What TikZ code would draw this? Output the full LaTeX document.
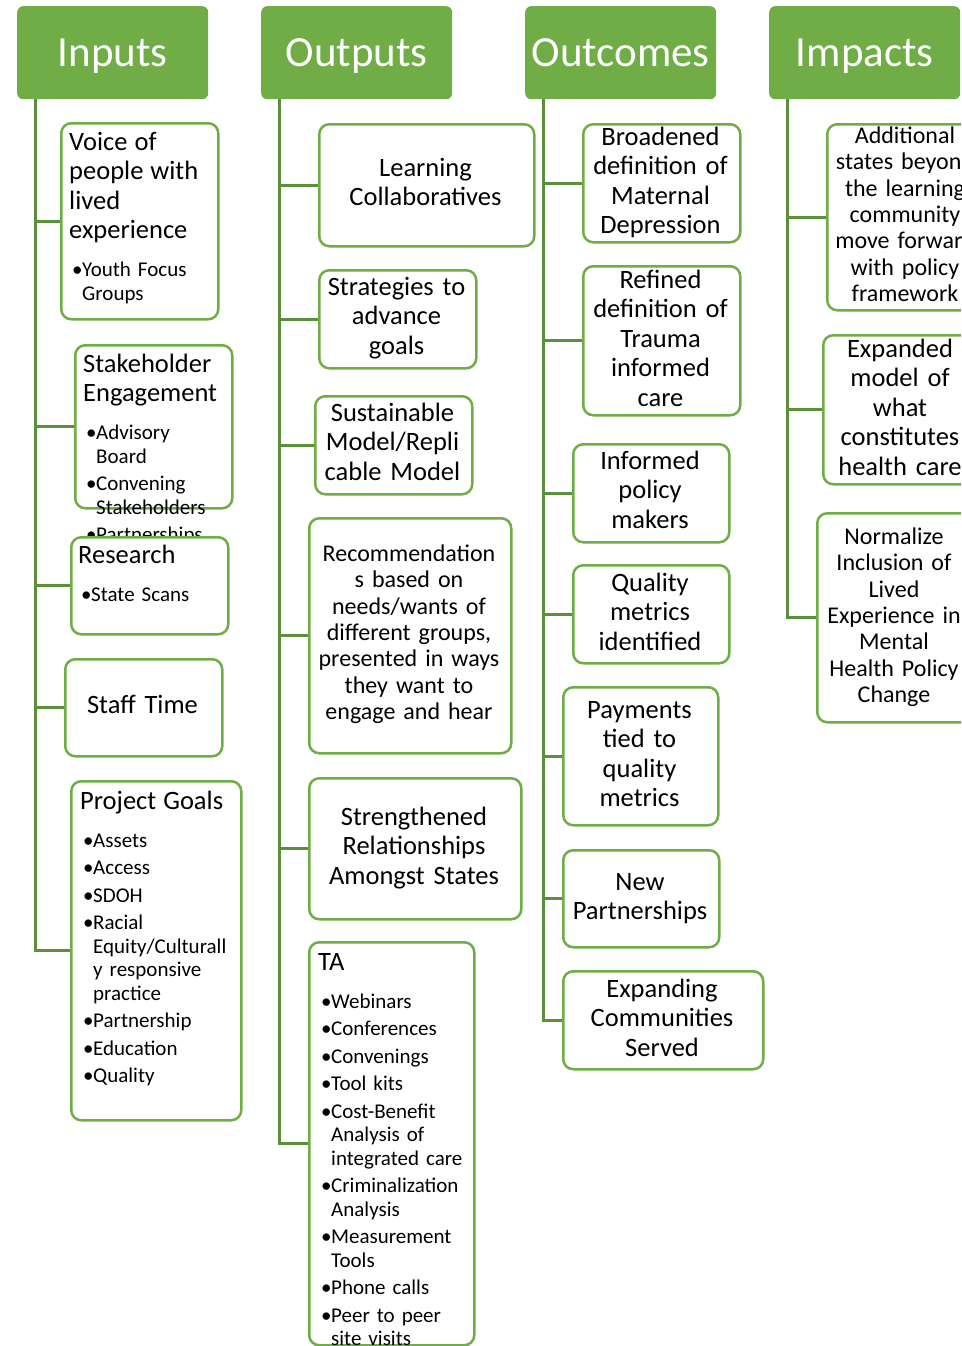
\documentclass[tikz,border=0pt]{standalone}
\usepackage{fontspec}
\setmainfont{Carlito}
\definecolor{gr}{HTML}{70AD47}
\definecolor{dgr}{HTML}{5B8F3B}
\newcommand{\fM}{\fontsize{26.5}{29.5}\selectfont}
\newcommand{\fR}{\fontsize{24}{26.4}\selectfont}
\newcommand{\fS}{\fontsize{21}{23.5}\selectfont}
\newcommand{\ttl}[1]{{\fM\strut #1\par}\vspace{10.5pt}}
\newcommand{\bi}[1]{\hangindent=13pt\hangafter=1\noindent\hspace*{3pt}\makebox[10pt][l]{\textbullet}{\let\\\newline #1}\par}
\newcommand{\bx}[5]{\node[bx, anchor=north west, minimum width={(#4-#2)*1pt}, minimum height={(#5-#3)*1pt}] (#1) at (#2,#3) {};}
\newcommand{\hd}[4]{\node[hdr, anchor=north west, minimum width=191pt, minimum height=93pt] (#1) at (#2,#3) {#4};}
\tikzset{
 hdr/.style={fill=gr, rounded corners=6pt, text=white, font=\fontsize{43}{50}\selectfont, inner sep=0, text height=27.7pt, text depth=0pt},
 bx/.style={draw=gr, line width=2.5pt, rounded corners=10pt, fill=white, inner sep=0},
 conn/.style={draw=dgr, line width=3pt},
 tl/.style={anchor=north west, inner sep=0, align=left, text width=220pt, yshift=20.65pt, font=\fS, execute at begin node={\setlength{\parskip}{4pt}}},
 tc/.style={anchor=north, inner sep=0, align=center, text width=220pt, yshift=20.65pt, font=\fM},
 tcr/.style={anchor=north, inner sep=0, align=center, text width=220pt, yshift=18.48pt, font=\fR},
}
\begin{document}
\begin{tikzpicture}[x=1pt,y=-1pt]
\useasboundingbox (0,0) rectangle (961,1346);
\clip (0,0) rectangle (961,1346);
% headers
\hd{hin}{17}{6}{Inputs}
\hd{hout}{261}{6}{Outputs}
\hd{hoc}{525}{6}{Outcomes}
\hd{him}{769}{6}{Impacts}
\coordinate (tin) at ([xshift=18pt]hin.south west);
\coordinate (tout) at ([xshift=18pt]hout.south west);
\coordinate (toc) at ([xshift=18pt]hoc.south west);
\coordinate (tim) at ([xshift=18pt]him.south west);
% ---------- Inputs
\bx{voice}{60}{122}{217}{318}
\node[tl] (tvoice) at (69,150) {\ttl{Voice of\\people with\\lived\\experience}\bi{Youth Focus\\Groups}};
\bx{stake}{74}{344}{231}{507}
\node[tl] (tstake) at (83,372) {\ttl{Stakeholder\\Engagement}\bi{Advisory\\Board}\bi{Convening\\Stakeholders}\bi{Partnerships}};
\bx{research}{70}{536}{227}{633}
\node[tl] (tresearch) at (78,563) {\ttl{Research}\bi{State Scans}};
\bx{staff}{64}{658}{221}{755}
\node[tc] (tstaff) at (142.5,713) {\strut Staff Time};
\bx{goals}{70}{780}{240}{1119}
\node[tl] (tgoals) at (80,809) {\ttl{Project Goals}\bi{Assets}\bi{Access}\bi{SDOH}\bi{Racial\\Equity/Culturall\\y responsive\\practice}\bi{Partnership}\bi{Education}\bi{Quality}};
% ---------- Outputs
\bx{learn}{318}{123}{533}{245}
\node[tc] (tlearn) at (425.5,176) {\strut Learning\\Collaboratives};
\bx{strat}{318}{269}{475}{367}
\node[tc] (tstrat) at (396.5,295) {\strut Strategies to\\advance\\goals};
\bx{sust}{314}{395}{471}{493}
\node[tc] (tsust) at (392.5,421) {\strut Sustainable\\Model/Repli\\cable Model};
\bx{recom}{308}{517}{510}{752}
\node[tcr] (trecom) at (409,561) {\strut Recommendation\\s based on\\needs/wants of\\different groups,\\presented in ways\\they want to\\engage and hear};
\bx{streng}{308}{777}{520}{918}
\node[tc] (tstreng) at (414,825) {\strut Strengthened\\Relationships\\Amongst States};
\bx{ta}{308}{941}{473}{1344}
\node[tl] (tta) at (318,970) {\ttl{TA}\bi{Webinars}\bi{Conferences}\bi{Convenings}\bi{Tool kits}\bi{Cost-Benefit\\Analysis of\\integrated care}\bi{Criminalization\\Analysis}\bi{Measurement\\Tools}\bi{Phone calls}\bi{Peer to peer\\site visits}};
% ---------- Outcomes
\bx{broad}{582}{123}{739}{241}
\node[tc] (tbroad) at (660.5,145) {\strut Broadened\\definition of\\Maternal\\Depression};
\bx{refined}{582}{265}{739}{414}
\node[tc] (trefined) at (660.5,288) {\strut Refined\\definition of\\Trauma\\informed\\care};
\bx{informed}{572}{443}{728}{541}
\node[tc] (tinformed) at (650,469) {\strut Informed\\policy\\makers};
\bx{quality}{572}{564}{728}{662}
\node[tc] (tquality) at (650,591) {\strut Quality\\metrics\\identified};
\bx{payments}{562}{686}{717}{824}
\node[tc] (tpayments) at (639.5,718) {\strut Payments\\tied to\\quality\\metrics};
\bx{newp}{562}{849}{718}{946}
\node[tc] (tnewp) at (640,890) {\strut New\\Partnerships};
\bx{expanding}{562}{970}{762}{1068}
\node[tc] (texpanding) at (662,997) {\strut Expanding\\Communities\\Served};
% ---------- Impacts
\bx{additional}{826}{123}{984}{309}
\node[tcr] (tadditional) at (905,143) {\strut Additional\\states beyond\\the learning\\community\\move forward\\with policy\\framework};
\bx{expanded}{822}{334}{978}{483}
\node[tc] (texpanded) at (900,357) {\strut Expanded\\model of\\what\\constitutes\\health care};
\bx{normalize}{816}{512}{972}{721}
\node[tcr] (tnormalize) at (894,544) {\strut Normalize\\Inclusion of\\Lived\\Experience in\\Mental\\Health Policy\\Change};
% ---------- connectors
\foreach \b in {voice,stake,research,staff,goals} \draw[conn] (tin) |- (\b.west);
\foreach \b in {learn,strat,sust,recom,streng,ta} \draw[conn] (tout) |- (\b.west);
\foreach \b in {broad,refined,informed,quality,payments,newp,expanding} \draw[conn] (toc) |- (\b.west);
\foreach \b in {additional,expanded,normalize} \draw[conn] (tim) |- (\b.west);
\end{tikzpicture}
\end{document}
